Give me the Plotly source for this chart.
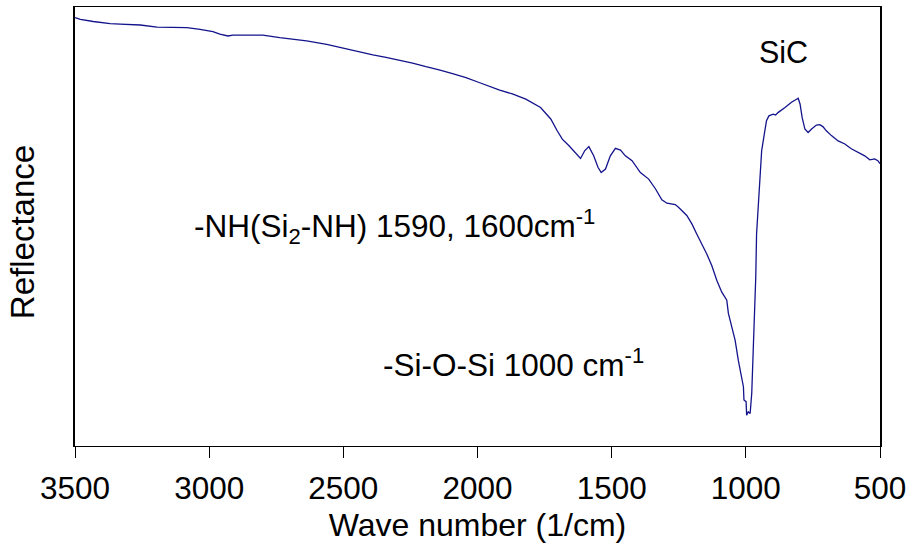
import plotly.graph_objects as go

# Wave number (cm^-1) and reflectance (arbitrary units)
wavenumber = [3500, 3480, 3432, 3369, 3332, 3257, 3194, 3083, 3034, 2986, 2960, 2930, 2912,
              2800, 2737, 2637, 2562, 2514, 2477, 2440, 2390, 2341, 2291, 2242, 2192, 2143,
              2093, 2043, 1994, 1944, 1920, 1870, 1820, 1765, 1727, 1703, 1684, 1659, 1635,
              1616, 1600, 1585, 1567, 1551, 1539, 1523, 1505, 1486, 1467, 1449, 1424, 1393,
              1362, 1337, 1313, 1294, 1263, 1251, 1220, 1201, 1183, 1164, 1146, 1127, 1108,
              1090, 1071, 1065, 1053, 1040, 1028, 1018, 1009, 1007, 999, 997, 991, 984, 978,
              972, 966, 963, 960, 956, 953, 947, 941, 931, 923, 914, 898, 889, 879, 854, 830,
              811, 805, 798, 790, 780, 768, 755, 737, 724, 712, 700, 681, 656, 631, 607, 582,
              557, 538, 520, 508, 500]
reflectance = [97.6, 97.2, 96.7, 96.2, 96.1, 95.9, 95.4, 95.3, 94.9, 94.4, 93.8, 93.4, 93.6,
               93.6, 93.0, 92.3, 91.5, 90.8, 90.4, 89.8, 89.1, 88.5, 87.9, 87.2, 86.4, 85.7,
               84.8, 83.9, 82.8, 81.7, 81.1, 80.2, 79.0, 77.1, 74.5, 71.8, 69.9, 68.4, 66.9,
               65.5, 67.3, 68.2, 66.1, 63.5, 62.3, 63.1, 66.1, 67.8, 67.4, 66.1, 65.0, 62.3,
               60.8, 58.6, 56.1, 55.3, 55.0, 54.4, 52.5, 50.6, 48.3, 46.1, 43.8, 41.1, 37.7,
               35.1, 33.2, 30.2, 27.1, 24.1, 19.5, 16.5, 13.5, 10.5, 10.1, 7.0, 7.8, 7.4, 12.0,
               22.6, 30.9, 38.5, 48.3, 52.9, 55.9, 63.5, 67.3, 71.1, 74.1, 75.2, 75.6, 75.4, 76.0,
               77.1, 78.3, 79.0, 79.2, 77.9, 74.8, 72.2, 71.4, 72.2, 73.1, 73.2, 72.7, 71.8, 70.7,
               69.5, 68.8, 67.7, 66.9, 66.1, 65.2, 65.4, 65.0, 64.3]

x_ticks = [3500, 3000, 2500, 2000, 1500, 1000, 500]

FONT = "Liberation Sans, Arial, sans-serif"

fig = go.Figure()
fig.add_trace(go.Scatter(x=wavenumber, y=reflectance, mode="lines",
                         line=dict(color="#13138c", width=1.3), showlegend=False))

fig.add_annotation(x=860, y=89.8, text="SiC", showarrow=False,
                   xanchor="center", yanchor="middle",
                   font=dict(family=FONT, size=30.5, color="black"))
fig.add_annotation(x=3064, y=50.0, text="-NH(Si<sub>2</sub>-NH) 1590, 1600cm<sup>-1</sup>",
                   showarrow=False, xanchor="left", yanchor="middle",
                   font=dict(family=FONT, size=31.5, color="black"))
fig.add_annotation(x=2358, y=18.9, text="-Si-O-Si 1000 cm<sup>-1</sup>",
                   showarrow=False, xanchor="left", yanchor="middle",
                   font=dict(family=FONT, size=31.5, color="black"))
# y-axis title
fig.add_annotation(xref="paper", yref="paper", x=-0.0644, y=0.4875, text="Reflectance",
                   textangle=-90, showarrow=False, xanchor="center", yanchor="middle",
                   font=dict(family=FONT, size=33, color="black"))

fig.update_layout(
    width=912, height=549,
    margin=dict(l=75, r=30, t=6, b=103),
    paper_bgcolor="white", plot_bgcolor="white",
    font=dict(family=FONT, size=31, color="black"),
    xaxis=dict(range=[3500, 500], tickvals=x_ticks, ticktext=[str(v) for v in x_ticks],
               ticks="outside", ticklen=11, tickcolor="black", tickwidth=1,
               showline=True, linecolor="black", linewidth=1, mirror=True,
               showgrid=False, zeroline=False, ticklabelstandoff=3,
               tickfont=dict(family=FONT, size=31.5),
               title=dict(text="Wave number (1/cm)", font=dict(family=FONT, size=32), standoff=8)),
    yaxis=dict(range=[0, 100], showticklabels=False, ticks="",
               showline=True, linecolor="black", linewidth=1.5, mirror=True,
               showgrid=False, zeroline=False),
)

fig.write_html("out.html")
